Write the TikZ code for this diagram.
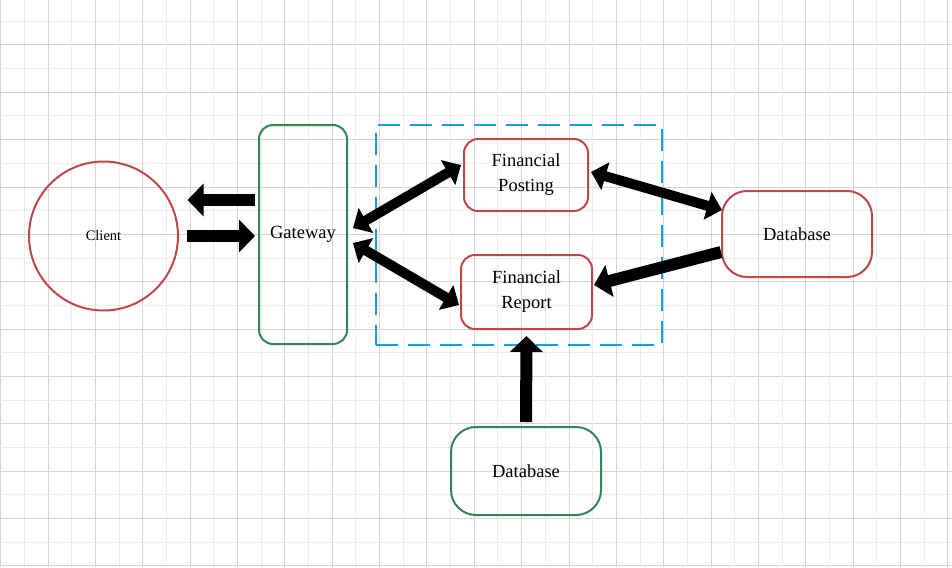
\documentclass[tikz,border=0pt]{standalone}
\usepackage{fontspec}
\setmainfont{Liberation Serif}
\usepackage{tikz}
\usetikzlibrary{arrows.meta}
\usetikzlibrary{calc}
\definecolor{boxred}{RGB}{190,72,74}
\definecolor{boxgreen}{RGB}{52,132,92}
\definecolor{groupblue}{RGB}{27,158,222}
\colorlet{gridmajor}{black!17}
\colorlet{gridminor}{black!8}
\newcommand\bigtxt{\fontsize{18.5}{25}\selectfont}
\newcommand\smalltxt{\fontsize{14.5}{18}\selectfont}
\tikzstyle{svc}=[draw=boxred,line width=2pt,rounded corners=14pt,align=center,inner sep=0pt,font=\bigtxt]
\tikzstyle{gw}=[svc,draw=boxgreen]
\tikzstyle{db}=[svc,rounded corners=25pt,minimum width=150pt]
\tikzstyle{client}=[circle,draw=boxred,line width=2pt,minimum size=149pt,inner sep=0pt,font=\smalltxt]
\tikzstyle{group}=[draw=groupblue,line width=2pt,dash pattern=on 22pt off 10pt]
\tikzstyle{flowhead}=[>/.tip={Triangle[length=16pt,width=32pt]}]
\tikzstyle{flow} =[line width=12pt,flowhead,->]
\tikzstyle{flows}=[line width=10pt,>/.tip={Triangle[length=15pt,width=28pt]},<->]
\begin{document}
\begin{tikzpicture}[x=1pt,y=-1pt]
				\fill[white] (0,0) rectangle (952,567);
				\useasboundingbox (0,0) rectangle (952,567);
				% grid
				\foreach \k in {0,...,40} {
					\pgfmathsetmacro\gx{0.7+23.68*\k}
					\pgfmathsetmacro\gy{-2.4+23.68*\k}
					\ifodd\k
						\draw[gridminor,line width=1pt] (\gx,0) -- (\gx,567);
						\draw[gridminor,line width=1pt] (0,\gy) -- (952,\gy);
					\else
						\draw[gridmajor,line width=1pt] (\gx,0) -- (\gx,567);
						\draw[gridmajor,line width=1pt] (0,\gy) -- (952,\gy);
					\fi
				}
				\node[group,minimum width=286pt,minimum height=220pt] (grp) at (519,235) {};
				\node[client] (client) at (103.5,236) {Client};
				\node[gw,minimum width=88pt,minimum height=219pt] (gateway) at (303,234.5) {Gateway};
				\node[svc,minimum width=124pt,minimum height=72pt] (posting) at (526,175) {Financial\\Posting};
				\node[svc,minimum width=131pt,minimum height=74pt] (report) at (526.5,292) {Financial\\Report};
				\node[db,minimum height=86pt] (dbright) at (797,234) {Database};
				\node[db,draw=boxgreen,minimum height=88pt] (dbbottom) at (526,471) {Database};
				\draw[flow] ($(gateway.west)+(-3,-34.5)$) -- ($(client.east)+(8.5,-36)$);
				\draw[flow] ($(client.east)+(7.5,0)$) -- ($(gateway.west)+(-3,1.5)$);
				\draw[flows] ($(gateway.east)+(5,-6.5)$) -- ($(posting.west)+(-2,-10)$);
				\draw[flows] ($(gateway.east)+(5,8.5)$) -- ($(report.west)+(-1,13)$);
				\draw[flows] ($(posting.east)+(2,-3)$) -- ($(dbright.west)+(1,-24)$);
				\draw[flow] ($(dbright.west)+(0,18)$) -- ($(report.east)+(1,-7)$);
				\draw[flow] ($(dbbottom.north)+(0,-4)$) -- ($(report.south)+(0,6)$);
\end{tikzpicture}
\end{document}
